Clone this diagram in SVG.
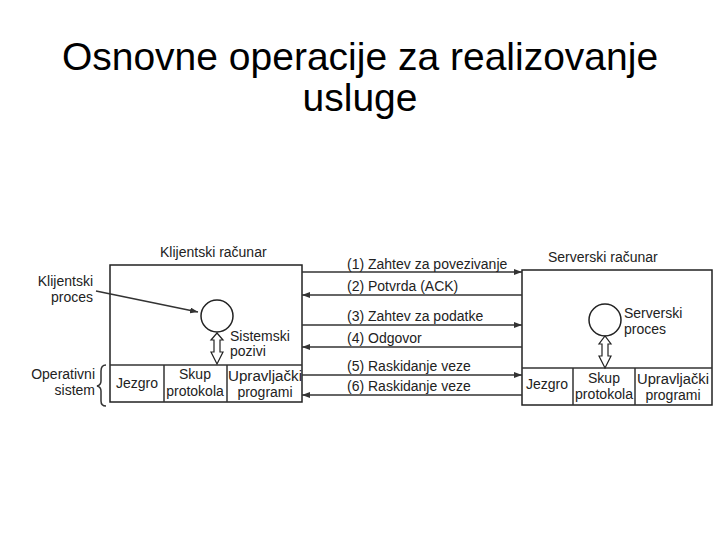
<svg xmlns="http://www.w3.org/2000/svg" width="720" height="540" viewBox="0 0 720 540">
<defs>
<marker id="ah" markerWidth="8" markerHeight="6" refX="8" refY="3" orient="auto" markerUnits="userSpaceOnUse"><path d="M0,0 L8,3 L0,6 z" fill="#333"/></marker>
<style>
.t{font-family:"Liberation Sans",Arial,sans-serif;font-size:14px;fill:#222}
.b{fill:#fff;stroke:#222;stroke-width:1.5}
.l{stroke:#333;stroke-width:1.5;fill:none}
.h{font-family:"Liberation Sans",Arial,sans-serif;font-size:39px;fill:#000}
</style>
</defs>
<rect width="720" height="540" fill="#fff"/>
<text class="h" x="360" y="70" text-anchor="middle">Osnovne operacije za realizovanje</text>
<text class="h" x="360" y="111" text-anchor="middle">usluge</text>
<g id="client">
<text class="t" x="160" y="257">Klijentski računar</text>
<rect class="b" x="110" y="265" width="192" height="137"/>
<line class="l" x1="110" y1="365" x2="302" y2="365"/>
<line class="l" x1="164" y1="365" x2="164" y2="402"/>
<line class="l" x1="227" y1="365" x2="227" y2="402"/>
<text class="t" x="137" y="388" text-anchor="middle">Jezgro</text>
<text class="t" x="195" y="379" text-anchor="middle">Skup</text>
<text class="t" x="195" y="396" text-anchor="middle">protokola</text>
<text class="t" x="265" y="381" text-anchor="middle" textLength="74" lengthAdjust="spacingAndGlyphs">Upravljački</text>
<text class="t" x="265" y="397" text-anchor="middle">programi</text>
<circle class="b" cx="217" cy="316" r="16"/>
<text class="t" x="230" y="341">Sistemski</text>
<text class="t" x="230" y="356">pozivi</text>
<text class="t" x="93" y="286" text-anchor="end">Klijentski</text>
<text class="t" x="93" y="302" text-anchor="end">proces</text>
<text class="t" x="95" y="379" text-anchor="end">Operativni</text>
<text class="t" x="95" y="395" text-anchor="end">sistem</text>
<path class="l" d="M106,365 q-5,0 -5,6 v10 q0,4 -4,5 q4,1 4,5 v10 q0,5 5,5"/>
</g>
<g id="server">
<text class="t" x="548" y="262">Serverski računar</text>
<rect class="b" x="522" y="270" width="190" height="135"/>
<line class="l" x1="522" y1="368" x2="712" y2="368"/>
<line class="l" x1="573" y1="368" x2="573" y2="405"/>
<line class="l" x1="635" y1="368" x2="635" y2="405"/>
<text class="t" x="547" y="389" text-anchor="middle">Jezgro</text>
<text class="t" x="604" y="383" text-anchor="middle">Skup</text>
<text class="t" x="604" y="399" text-anchor="middle" textLength="58" lengthAdjust="spacingAndGlyphs">protokola</text>
<text class="t" x="673" y="384" text-anchor="middle" textLength="72" lengthAdjust="spacingAndGlyphs">Upravljački</text>
<text class="t" x="673" y="400" text-anchor="middle">programi</text>
<circle class="b" cx="605" cy="320" r="16"/>
<text class="t" x="624" y="318">Serverski</text>
<text class="t" x="624" y="334">proces</text>
</g>
<g id="connectors">
<line class="l" x1="96" y1="291" x2="198" y2="312" marker-end="url(#ah)"/>
<path d="M214,352 v-12 h-3 l6,-7 l6,7 h-3 v12 h3 l-6,12 l-6,-12 z" fill="#fff" stroke="#222" stroke-width="1.2"/>
<path d="M602,356 v-12 h-3 l6,-8 l6,8 h-3 v12 h3 l-6,12 l-6,-12 z" fill="#fff" stroke="#222" stroke-width="1.2"/>
<line class="l" x1="302" y1="272" x2="522" y2="272" marker-end="url(#ah)"/>
<line class="l" x1="522" y1="295" x2="302" y2="295" marker-end="url(#ah)"/>
<line class="l" x1="302" y1="325" x2="522" y2="325" marker-end="url(#ah)"/>
<line class="l" x1="522" y1="347" x2="302" y2="347" marker-end="url(#ah)"/>
<line class="l" x1="302" y1="375" x2="522" y2="375" marker-end="url(#ah)"/>
<line class="l" x1="522" y1="395" x2="302" y2="395" marker-end="url(#ah)"/>
<text class="t" x="347" y="269">(1) Zahtev za povezivanje</text>
<text class="t" x="347" y="291">(2) Potvrda (ACK)</text>
<text class="t" x="347" y="321">(3) Zahtev za podatke</text>
<text class="t" x="347" y="343">(4) Odgovor</text>
<text class="t" x="347" y="371">(5) Raskidanje veze</text>
<text class="t" x="347" y="391">(6) Raskidanje veze</text>
</g>
</svg>
